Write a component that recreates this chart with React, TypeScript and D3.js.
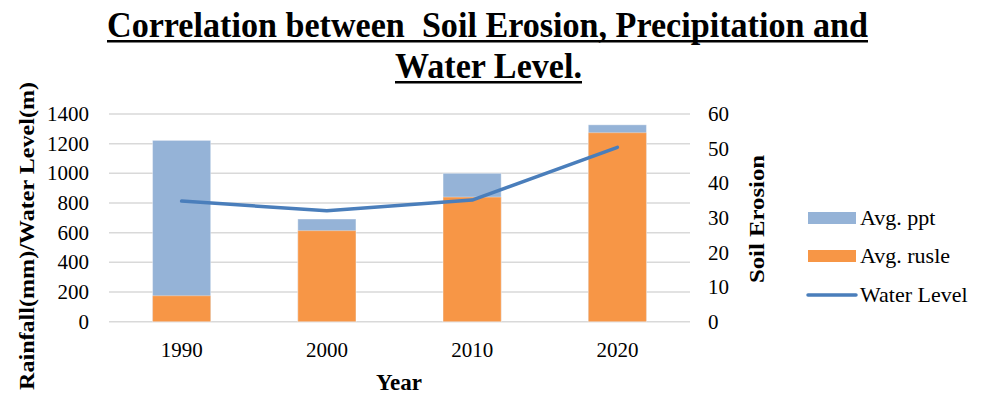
import React from "react";
import * as d3 from "d3";

// Chart data
const years = ["1990", "2000", "2010", "2020"];
const avgPpt = [1222, 692, 1000, 1327]; // rainfall (mm), primary axis
const avgRusle = [7.5, 26.3, 36.0, 54.6]; // soil erosion, secondary axis
const waterLevel = [813, 748, 820, 1175]; // primary axis
const leftTicks = [0, 200, 400, 600, 800, 1000, 1200, 1400];
const rightTicks = [0, 10, 20, 30, 40, 50, 60];

const W = 985;
const H = 395;
const plot = { left: 109, right: 690, top: 114, bottom: 321.7 };

const FONT = "'Liberation Serif', 'Times New Roman', serif";
const PPT_COLOR = "#95B3D7";
const RUSLE_COLOR = "#F79646";
const LINE_COLOR = "#4A7EBB";
const GRID = "#D9D9D9";

export default function App() {
  const x = d3
    .scaleBand<string>()
    .domain(years)
    .range([plot.left, plot.right])
    .paddingInner(0.6)
    .paddingOuter(0.3);
  const yLeft = d3.scaleLinear().domain([0, 1400]).range([plot.bottom, plot.top]);
  const yRight = d3.scaleLinear().domain([0, 60]).range([plot.bottom, plot.top]);

  const line = d3
    .line<number>()
    .x((_, i) => (x(years[i]) as number) + x.bandwidth() / 2)
    .y((d) => yLeft(d));

  const legendX = 808;
  const legendRows = [218, 256, 295];

  return (
    <svg
      width={W}
      height={H}
      style={{ position: "absolute", left: 0, top: 0, background: "#fff" }}
      fontFamily={FONT}
    >
      {/* Title */}
      <g fontWeight="bold" fontSize={35} fill="#000" textAnchor="middle">
        <text
          x={487.5}
          y={37}
          textLength={761}
          lengthAdjust="spacingAndGlyphs"
          style={{ whiteSpace: "pre" }}
        >
          {"Correlation between  Soil Erosion, Precipitation and"}
        </text>
        <rect x={107} y={40} width={761} height={2.5} />
        <text x={488.5} y={78} textLength={187} lengthAdjust="spacingAndGlyphs">
          Water Level.
        </text>
        <rect x={395} y={81} width={187} height={2.5} />
      </g>

      {/* Gridlines */}
      {leftTicks.map((t) => (
        <line
          key={"g" + t}
          x1={plot.left}
          x2={plot.right}
          y1={yLeft(t)}
          y2={yLeft(t)}
          stroke={GRID}
          strokeWidth={1.5}
        />
      ))}

      {/* Precipitation bars (primary axis) */}
      {years.map((yr, i) => (
        <rect
          key={"p" + yr}
          x={x(yr)}
          y={yLeft(avgPpt[i])}
          width={x.bandwidth()}
          height={plot.bottom - yLeft(avgPpt[i])}
          fill={PPT_COLOR}
          stroke="rgba(255,255,255,0.35)"
          strokeWidth={1}
        />
      ))}

      {/* Soil erosion bars (secondary axis) */}
      {years.map((yr, i) => (
        <rect
          key={"r" + yr}
          x={x(yr)}
          y={yRight(avgRusle[i])}
          width={x.bandwidth()}
          height={plot.bottom - yRight(avgRusle[i])}
          fill={RUSLE_COLOR}
          stroke="rgba(255,255,255,0.35)"
          strokeWidth={1}
        />
      ))}

      {/* Water level line */}
      <path
        d={line(waterLevel) || ""}
        fill="none"
        stroke={LINE_COLOR}
        strokeWidth={3.5}
        strokeLinecap="round"
        strokeLinejoin="round"
      />

      {/* Left axis tick labels */}
      <g fontSize={21} fill="#000" textAnchor="end">
        {leftTicks.map((t) => (
          <text key={"l" + t} x={89} y={yLeft(t)} dy="0.34em">
            {t}
          </text>
        ))}
      </g>

      {/* Right axis tick labels */}
      <g fontSize={21} fill="#000" textAnchor="start">
        {rightTicks.map((t) => (
          <text key={"rt" + t} x={708} y={yRight(t)} dy="0.34em">
            {t}
          </text>
        ))}
      </g>

      {/* X axis tick labels */}
      <g fontSize={21} fill="#000" textAnchor="middle">
        {years.map((yr) => (
          <text key={"x" + yr} x={(x(yr) as number) + x.bandwidth() / 2} y={357}>
            {yr}
          </text>
        ))}
      </g>

      {/* Axis titles */}
      <g fontWeight="bold" fill="#000" textAnchor="middle">
        <text x={399} y={390} fontSize={23}>
          Year
        </text>
        <text
          transform="translate(34,236) rotate(-90)"
          fontSize={22}
          textLength={308}
          lengthAdjust="spacingAndGlyphs"
        >
          Rainfall(mm)/Water Level(m)
        </text>
        <text
          transform="translate(764,219) rotate(-90)"
          fontSize={22}
          textLength={128}
          lengthAdjust="spacingAndGlyphs"
        >
          Soil Erosion
        </text>
      </g>

      {/* Legend */}
      <g fontSize={22} fill="#000">
        <rect x={legendX} y={legendRows[0] - 6} width={48} height={12} fill={PPT_COLOR} />
        <text x={860} y={legendRows[0]} dy="0.34em">
          Avg. ppt
        </text>
        <rect x={legendX} y={legendRows[1] - 6} width={48} height={12} fill={RUSLE_COLOR} />
        <text x={860} y={legendRows[1]} dy="0.34em">
          Avg. rusle
        </text>
        <line
          x1={legendX}
          x2={legendX + 48}
          y1={legendRows[2]}
          y2={legendRows[2]}
          stroke={LINE_COLOR}
          strokeWidth={3.5}
          strokeLinecap="round"
        />
        <text x={860} y={legendRows[2]} dy="0.34em">
          Water Level
        </text>
      </g>
    </svg>
  );
}
